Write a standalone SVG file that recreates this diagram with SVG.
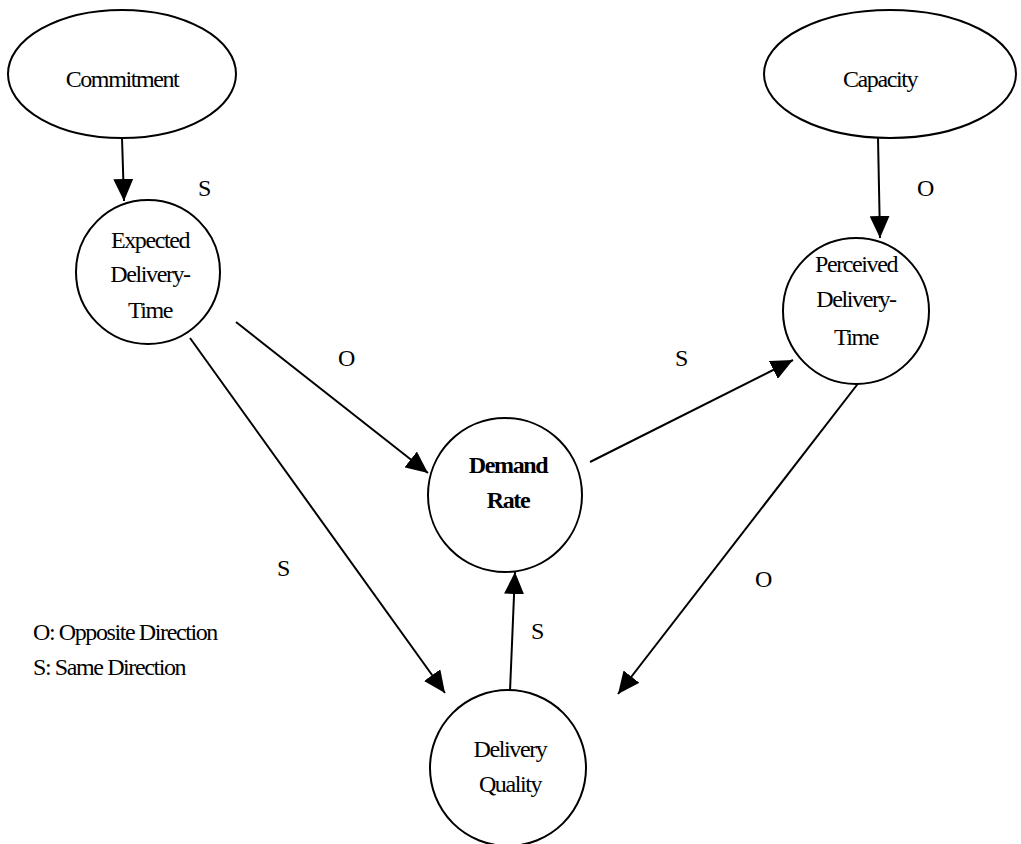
<svg xmlns="http://www.w3.org/2000/svg" width="1021" height="844" viewBox="0 0 1021 844">
<defs>
<marker id="arr" markerWidth="22" markerHeight="20" refX="22" refY="10" orient="auto" markerUnits="userSpaceOnUse">
<path d="M0,0 L22,10 L0,20 Z" fill="#000"/>
</marker>
<style>
.n{fill:#fff;stroke:#000;stroke-width:2}
.t{font-family:"Liberation Serif","Times New Roman",serif;font-size:24px;letter-spacing:-1.4px;fill:#000;text-anchor:middle}
.b{font-weight:bold}
.l{font-family:"Liberation Serif","Times New Roman",serif;font-size:24px;letter-spacing:-1.4px;fill:#000}
.e{stroke:#000;stroke-width:2;fill:none;marker-end:url(#arr)}
</style>
</defs>
<rect width="1021" height="844" fill="#fff"/>
<g id="connectors">
<line class="e" x1="122" y1="138" x2="124" y2="201"/>
<line class="e" x1="878" y1="138" x2="880" y2="238"/>
<line class="e" x1="236" y1="322" x2="428" y2="473"/>
<line class="e" x1="590" y1="462" x2="793" y2="360"/>
<line class="e" x1="190" y1="338" x2="445" y2="693"/>
<line class="e" x1="860" y1="381" x2="618" y2="694"/>
<line class="e" x1="510" y1="691" x2="515" y2="572"/>
<text class="l" x="198" y="196">S</text>
<text class="l" x="917" y="196">O</text>
<text class="l" x="338" y="366">O</text>
<text class="l" x="675" y="366">S</text>
<text class="l" x="277" y="576">S</text>
<text class="l" x="755" y="587">O</text>
<text class="l" x="531" y="639">S</text>
</g>
<g id="commitment">
<ellipse class="n" cx="122" cy="74" rx="114" ry="64"/>
<text class="t" x="122" y="87">Commitment</text>
</g>
<g id="capacity">
<ellipse class="n" cx="890" cy="74" rx="126" ry="64"/>
<text class="t" x="880" y="87">Capacity</text>
</g>
<g id="expected">
<circle class="n" cx="148" cy="272" r="72"/>
<text class="t" x="150" y="248">Expected</text>
<text class="t" x="150" y="282">Delivery-</text>
<text class="t" x="150" y="318">Time</text>
</g>
<g id="perceived">
<circle class="n" cx="856" cy="311" r="73"/>
<text class="t" x="856" y="272">Perceived</text>
<text class="t" x="856" y="307">Delivery-</text>
<text class="t" x="856" y="345">Time</text>
</g>
<g id="demand">
<circle class="n" cx="505" cy="495" r="77"/>
<text class="t b" x="508" y="473">Demand</text>
<text class="t b" x="508" y="508">Rate</text>
</g>
<g id="quality">
<circle class="n" cx="508" cy="768" r="78"/>
<text class="t" x="510" y="757">Delivery</text>
<text class="t" x="510" y="792">Quality</text>
</g>
<g id="legend">
<text class="l" x="33" y="640">O: Opposite Direction</text>
<text class="l" x="33" y="675">S: Same Direction</text>
</g>
</svg>
